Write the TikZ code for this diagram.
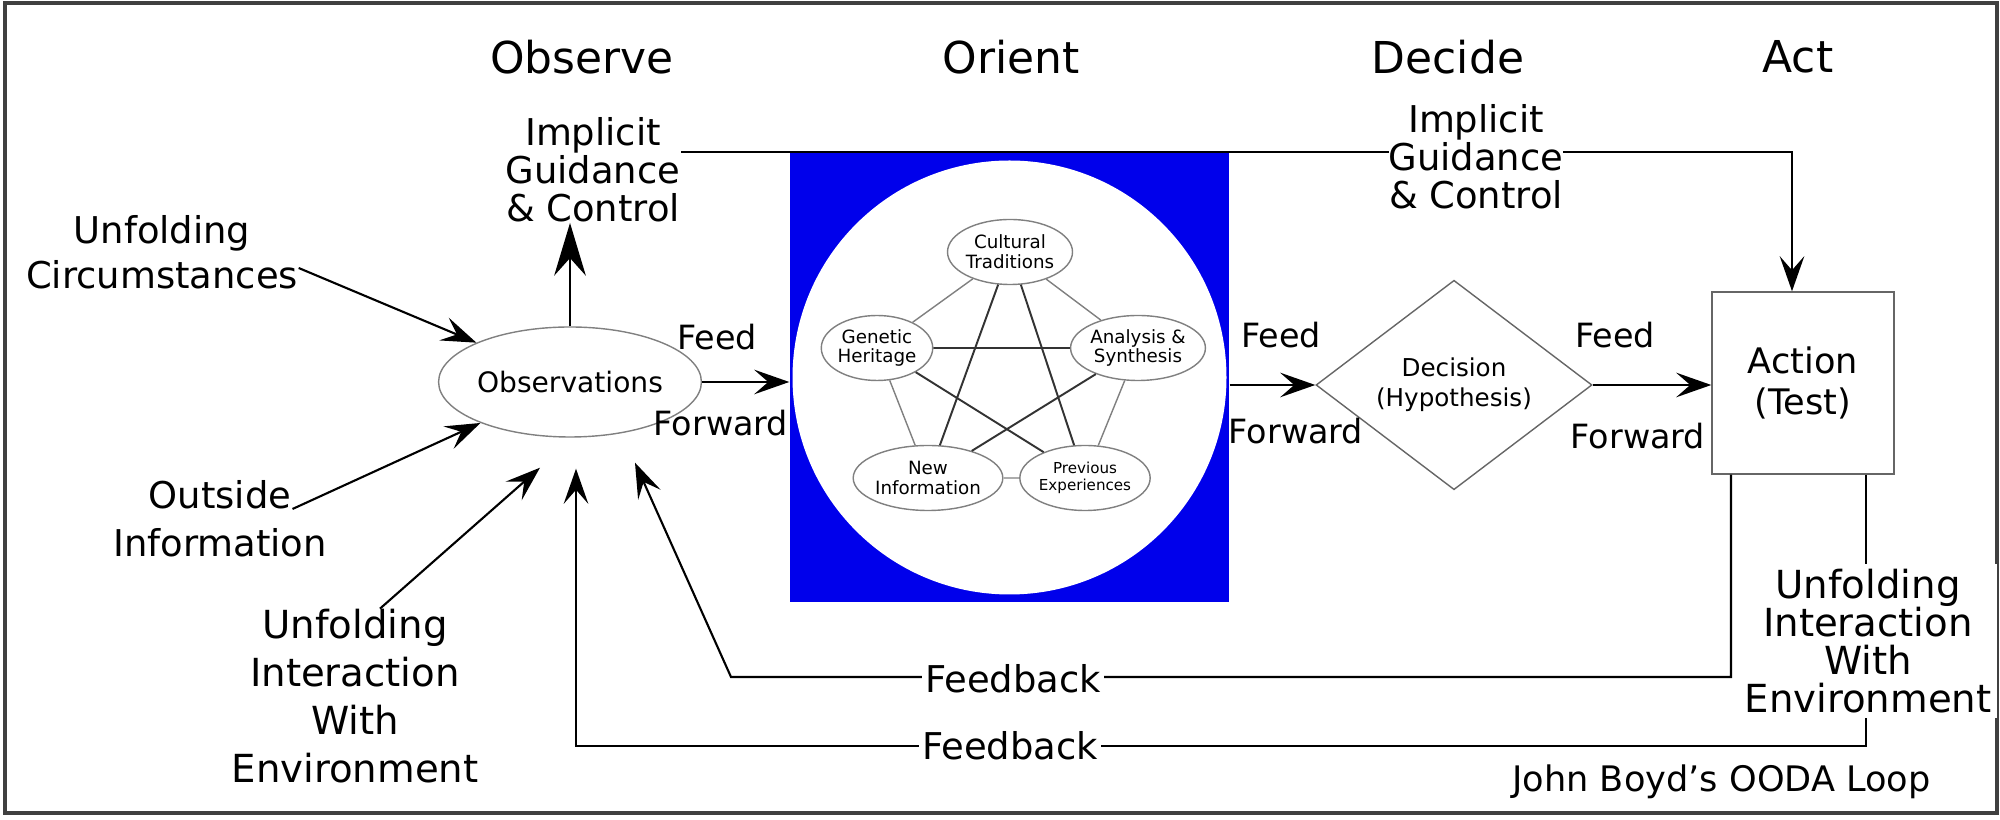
\documentclass[tikz,border=0pt]{standalone}
\usepackage{fontspec}
\setmainfont{DejaVu Sans}
\usetikzlibrary{arrows.meta,shapes.geometric}
\definecolor{orientblue}{RGB}{0,0,235}
\tikzset{
  fwd/.style={-{Stealth[length=10pt,width=7pt,inset=4pt]}, line width=0.6pt},
  bigfwd/.style={-{Stealth[length=15pt,width=9pt,inset=5pt]}, line width=0.6pt},
  head/.style={font=\fontsize{12.5}{15}\selectfont},
  lbl/.style={align=center, inner sep=0pt, font=\fontsize{10.5}{10.8}\selectfont},
  ff/.style={font=\fontsize{9.5}{11}\selectfont},
  inner/.style={ellipse, draw=gray, thin, minimum width=1.05cm, minimum height=0.65cm,
    inner sep=0pt, align=center, font=\fontsize{5.2}{5.6}\selectfont},
}

\begin{document}
\begin{tikzpicture}
\useasboundingbox (0,0) rectangle (20,8.2);
\draw[line width=0.9pt, black!75] (0.05,0.07) rectangle (19.97,8.17);

\node[head] (hobs) at (5.82,7.63) {Observe};
\node[head] (hori) at (10.11,7.63) {Orient};
\node[head] (hdec) at (14.48,7.63) {Decide};
\node[head] (hact) at (17.98,7.63) {Act};

% orient
\node[fill=orientblue, minimum width=4.39cm, minimum height=4.49cm, inner sep=0pt] (orient) at (10.095,4.425) {};
\fill[white] (orient.center) circle (2.17);
\node[inner] (ct) at (10.10,5.68) {Cultural\\Traditions};
\node[inner] (gh) at (8.77,4.72) {Genetic\\Heritage};
\node[inner] (as) at (11.38,4.72) {Analysis \&\\Synthesis};
\node[inner] (ni) at (9.28,3.42) {New\\Information};
\node[inner, font=\fontsize{4.3}{5}\selectfont] (pe) at (10.85,3.42) {Previous\\Experiences};
\draw[gray, thin] (ct) -- (gh) -- (ni) -- (pe) -- (as) -- (ct);
\draw[black!80, line width=0.55pt] (ct) -- (ni) -- (as) -- (gh) -- (pe) -- (ct);

\node[ellipse, draw=gray, minimum width=2cm, minimum height=1.1cm, inner sep=0pt,
  font=\fontsize{8}{9}\selectfont] (obs) at (5.70,4.38) {Observations};
\node[diamond, draw=black!60, minimum width=2.76cm, minimum height=2.02cm, inner sep=0pt,
  align=center, font=\fontsize{7}{8.5}\selectfont] (dec) at (14.54,4.35) {Decision\\(Hypothesis)};
\node[draw=black!60, minimum width=1.82cm, minimum height=1.82cm, align=center,
  font=\fontsize{10}{11.6}\selectfont] (act) at (18.03,4.37) {Action\\(Test)};

\draw[fwd] (obs.east) -- (obs.east -| orient.west);
\draw[fwd] (orient.east |- dec.west) -- (dec.west);
\draw[fwd] (dec.east) -- (act.west |- dec.east);
\node[ff] (feeda) at (7.17,4.83) {Feed};
\node[ff] (fwda) at (7.21,3.97) {Forward};
\node[ff] (feedb) at (12.81,4.85) {Feed};
\node[ff] (fwdb) at (12.96,3.89) {Forward};
\node[ff] (feedc) at (16.15,4.85) {Feed};
\node[ff] (fwdc) at (16.38,3.84) {Forward};

% guidance
\node[lbl] (igcl) at (5.93,6.50) {Implicit\\Guidance\\\& Control};
\coordinate (igcout) at (igcl.east |- orient.north);
\draw[fwd] (igcout) -| ([xshift=-1.1mm]act.north);
\node[lbl, fill=white] (igcr) at (14.76,6.63) {Implicit\\Guidance\\\& Control};
\draw[bigfwd] (obs.north) -- (obs.north |- igcl.south);

% inputs
\node[lbl, font=\fontsize{10.5}{12.7}\selectfont] (uc) at (1.62,5.68) {Unfolding\\Circumstances};
\node[lbl, font=\fontsize{10.5}{13.7}\selectfont] (oi) at (2.20,3.01) {Outside\\Information};
\node[lbl, font=\fontsize{11}{13.6}\selectfont] (ui) at (3.55,1.24) {Unfolding\\Interaction\\With\\Environment};
\coordinate (obsin1) at ([shift={(-0.30,-0.30)}]obs.south);
\coordinate (obsin2) at ([shift={(0.06,-0.31)}]obs.south);
\coordinate (obsin3) at ([shift={(0.65,-0.25)}]obs.south);
\draw[fwd] ([yshift=-1.6mm]uc.east) -- (obs);
\draw[fwd] ([shift={(-3.5mm,1mm)}]oi.east) -- (obs);
\draw[fwd] ([xshift=2.5mm]ui.north) -- (obsin1);

% feedback
\coordinate (fbbend) at (7.31,1.43);
\coordinate (fbrow) at (0,0.74);
\draw[fwd] ([xshift=-7.2mm]act.south) |- (fbbend) -- (obsin3);
\draw[fwd] ([xshift=6.3mm]act.south) |- (obsin2 |- fbrow) -- (obsin2);
\node[lbl, fill=white, inner sep=1pt] (fbone) at (10.13,1.41) {Feedback};
\node[lbl, fill=white, inner sep=1pt] (fbtwo) at (10.10,0.74) {Feedback};
\node[lbl, fill=white, inner sep=1.5pt, font=\fontsize{11}{10.8}\selectfont] (uir) at (18.68,1.79)
  {Unfolding\\Interaction\\With\\Environment};

\node[font=\fontsize{10}{12}\selectfont, anchor=east] (title) at (19.43,0.38) {John Boyd's OODA Loop};
\end{tikzpicture}
\end{document}
